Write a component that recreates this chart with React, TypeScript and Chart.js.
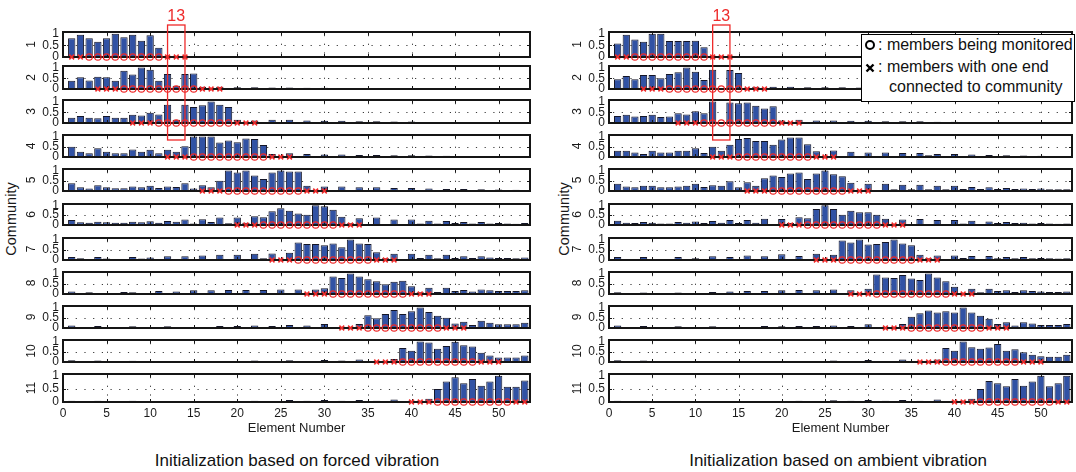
import React, { useEffect, useRef } from "react";
import { Chart, registerables } from "chart.js";

Chart.register(...registerables);

const FONT = '"Liberation Sans", Arial, Helvetica, sans-serif';
Chart.defaults.font.family = FONT;
Chart.defaults.color = "#1a1a1a";

// ---------------- data ----------------
const X_TICKS = [0, 5, 10, 15, 20, 25, 30, 35, 40, 45, 50];
const Y_TICKS = [0, 0.5, 1];
const Y_TICK_LABELS = ["0", "0.5", "1"];
const ROW_LABELS = ["1", "2", "3", "4", "5", "6", "7", "8", "9", "10", "11"];
const X_TITLE = "Element Number";
const Y_TITLE = "Community";
const HIGHLIGHT_FROM = 12;
const HIGHLIGHT_TO = 14;
const HIGHLIGHT_LABEL = "13";
const TITLE_LEFT = "Initialization based on forced vibration";
const TITLE_RIGHT = "Initialization based on ambient vibration";
const LEGEND_CIRCLE = ": members being monitored";
const LEGEND_CROSS_1 = ": members with one end";
const LEGEND_CROSS_2 = "connected to community";

const CIRCLES = [
  [3, 4, 5, 6, 7, 8, 9, 10, 11],
  [7, 8, 9, 10, 11, 12, 13, 14, 15],
  [11, 12, 13, 14, 15, 16, 17, 18, 19],
  [15, 16, 17, 18, 19, 20, 21, 22, 23],
  [19, 20, 21, 22, 23, 24, 25, 26, 27],
  [23, 24, 25, 26, 27, 28, 29, 30, 31],
  [27, 28, 29, 30, 31, 32, 33, 34, 35],
  [31, 32, 33, 34, 35, 36, 37, 38, 39],
  [35, 36, 37, 38, 39, 40, 41, 42, 43],
  [39, 40, 41, 42, 43, 44, 45, 46, 47],
  [43, 44, 45, 46, 47, 48, 49, 50, 51],
];
const CROSSES = [
  [1, 2, 12, 13, 14],
  [4, 5, 6, 16, 17, 18],
  [8, 9, 10, 20, 21, 22],
  [12, 13, 14, 24, 25, 26],
  [16, 17, 18, 28, 29, 30],
  [20, 21, 22, 32, 33, 34],
  [24, 25, 26, 36, 37, 38],
  [28, 29, 30, 40, 41, 42],
  [32, 33, 34, 44, 45, 46],
  [36, 37, 38, 48, 49, 50],
  [40, 41, 42, 52, 53],
];

// forced vibration (left)
const L1 = [0.8, 0.95, 0.8, 0.65, 0.8, 1.0, 0.85, 0.95, 0.7, 0.93,
  0.4, 0.02, 0.02, 0.03, 0.02, 0.03, 0.02, 0.03, 0.02, 0.03,
  0.02, 0.03, 0.02, 0.03, 0.02, 0.03, 0.02, 0.03, 0.02, 0.03,
  0.02, 0.03, 0.02, 0.03, 0.02, 0.03, 0.02, 0.03, 0.02, 0.03,
  0.02, 0.03, 0.02, 0.03, 0.02, 0.03, 0.02, 0.03, 0.02, 0.02,
  0.02, 0.02, 0.02];
const L2 = [0.38, 0.55, 0.4, 0.57, 0.55, 0.38, 0.85, 0.68, 1.0, 0.9,
  0.38, 0.7, 0.15, 0.7, 0.72, 0.1, 0.02, 0.1, 0.02, 0.08,
  0.02, 0.08, 0.02, 0.07, 0.02, 0.07, 0.02, 0.06, 0.02, 0.06,
  0.02, 0.05, 0.02, 0.05, 0.02, 0.05, 0.02, 0.04, 0.02, 0.04,
  0.02, 0.04, 0.02, 0.03, 0.02, 0.03, 0.02, 0.03, 0.02, 0.03,
  0.02, 0.02, 0.02];
const L3 = [0.25, 0.32, 0.25, 0.22, 0.32, 0.25, 0.25, 0.38, 0.35, 0.48,
  0.4, 0.85, 0.15, 0.85, 0.75, 0.82, 1.0, 0.85, 0.75, 0.15,
  0.02, 0.12, 0.03, 0.15, 0.02, 0.15, 0.02, 0.12, 0.02, 0.1,
  0.02, 0.1, 0.02, 0.08, 0.02, 0.08, 0.02, 0.07, 0.02, 0.07,
  0.02, 0.05, 0.02, 0.05, 0.02, 0.04, 0.02, 0.04, 0.02, 0.03,
  0.02, 0.03, 0.02];
const L4 = [0.5, 0.25, 0.18, 0.42, 0.25, 0.18, 0.18, 0.37, 0.25, 0.35,
  0.18, 0.35, 0.25, 0.52, 1.0, 1.0, 1.0, 0.7, 0.8, 0.72,
  0.9, 0.88, 0.58, 0.15, 0.03, 0.18, 0.02, 0.15, 0.02, 0.12,
  0.03, 0.12, 0.03, 0.1, 0.03, 0.1, 0.03, 0.08, 0.03, 0.08,
  0.03, 0.07, 0.03, 0.06, 0.03, 0.05, 0.03, 0.04, 0.03, 0.04,
  0.03, 0.03, 0.03];
const L5 = [0.38, 0.18, 0.12, 0.28, 0.18, 0.13, 0.13, 0.22, 0.18, 0.26,
  0.15, 0.22, 0.2, 0.38, 0.12, 0.28, 0.18, 0.5, 1.0, 0.9,
  1.0, 0.75, 0.58, 0.9, 1.0, 0.95, 0.95, 0.25, 0.05, 0.22,
  0.03, 0.22, 0.05, 0.18, 0.05, 0.18, 0.05, 0.15, 0.05, 0.15,
  0.05, 0.12, 0.05, 0.1, 0.05, 0.1, 0.05, 0.08, 0.05, 0.07,
  0.05, 0.06, 0.05];
const L6 = [0.25, 0.14, 0.12, 0.17, 0.14, 0.11, 0.11, 0.17, 0.14, 0.19,
  0.11, 0.21, 0.16, 0.28, 0.08, 0.29, 0.15, 0.38, 0.09, 0.38,
  0.11, 0.45, 0.39, 0.7, 0.85, 0.72, 0.58, 0.52, 1.0, 0.95,
  0.78, 0.42, 0.09, 0.35, 0.05, 0.38, 0.05, 0.28, 0.05, 0.28,
  0.08, 0.22, 0.08, 0.2, 0.1, 0.15, 0.08, 0.15, 0.08, 0.1,
  0.08, 0.07, 0.1];
const L7 = [0.15, 0.08, 0.05, 0.15, 0.07, 0.03, 0.05, 0.15, 0.07, 0.12,
  0.05, 0.18, 0.05, 0.18, 0.05, 0.22, 0.05, 0.25, 0.05, 0.25,
  0.05, 0.3, 0.08, 0.32, 0.05, 0.35, 0.85, 0.78, 0.78, 0.72,
  0.8, 0.62, 1.0, 0.8, 0.78, 0.38, 0.08, 0.3, 0.05, 0.3,
  0.1, 0.25, 0.08, 0.25, 0.1, 0.18, 0.1, 0.18, 0.12, 0.1,
  0.1, 0.08, 0.12];
const L8 = [0.12, 0.05, 0.08, 0.05, 0.05, 0.03, 0.1, 0.08, 0.05, 0.05,
  0.15, 0.05, 0.12, 0.05, 0.18, 0.05, 0.18, 0.05, 0.2, 0.05,
  0.2, 0.05, 0.2, 0.05, 0.22, 0.05, 0.22, 0.05, 0.22, 0.28,
  0.85, 0.78, 1.0, 0.85, 0.72, 0.62, 0.48, 0.6, 0.65, 0.38,
  0.08, 0.3, 0.1, 0.3, 0.15, 0.2, 0.12, 0.22, 0.18, 0.15,
  0.15, 0.15, 0.18];
const L9 = [0.12, 0.03, 0.05, 0.1, 0.03, 0.03, 0.03, 0.08, 0.05, 0.05,
  0.05, 0.08, 0.05, 0.05, 0.05, 0.05, 0.05, 0.1, 0.05, 0.1,
  0.05, 0.12, 0.05, 0.1, 0.03, 0.15, 0.03, 0.12, 0.05, 0.2,
  0.05, 0.05, 0.05, 0.2, 0.62, 0.48, 0.68, 0.88, 0.68, 0.82,
  1.0, 0.78, 0.6, 0.5, 0.22, 0.3, 0.15, 0.35, 0.25, 0.18,
  0.18, 0.18, 0.25];
const L10 = [0.08, 0.03, 0.03, 0.07, 0.03, 0.03, 0.03, 0.06, 0.03, 0.03,
  0.03, 0.05, 0.03, 0.03, 0.03, 0.03, 0.03, 0.05, 0.03, 0.03,
  0.03, 0.07, 0.03, 0.03, 0.03, 0.08, 0.03, 0.05, 0.03, 0.1,
  0.03, 0.07, 0.03, 0.12, 0.03, 0.05, 0.05, 0.15, 0.68, 0.55,
  1.0, 0.95, 0.65, 0.78, 0.98, 0.82, 0.75, 0.45, 0.32, 0.22,
  0.22, 0.22, 0.32];
const L11 = [0.05, 0.03, 0.03, 0.05, 0.03, 0.03, 0.03, 0.05, 0.03, 0.03,
  0.03, 0.04, 0.03, 0.03, 0.03, 0.03, 0.03, 0.04, 0.03, 0.03,
  0.03, 0.05, 0.03, 0.03, 0.03, 0.08, 0.03, 0.05, 0.03, 0.08,
  0.03, 0.05, 0.03, 0.08, 0.03, 0.05, 0.03, 0.1, 0.03, 0.05,
  0.05, 0.12, 0.5, 0.78, 0.95, 0.72, 0.88, 0.62, 0.78, 1.0,
  0.58, 0.58, 0.82];

// ambient vibration (right)
const R1 = [0.58, 0.95, 0.75, 0.65, 1.0, 1.0, 0.68, 0.68, 0.68, 0.7,
  0.42, 0.02, 0.02, 0.03, 0.02, 0.03, 0.02, 0.03, 0.02, 0.03,
  0.02, 0.03, 0.02, 0.03, 0.02, 0.03, 0.02, 0.03, 0.02, 0.03,
  0.02, 0.03, 0.02, 0.03, 0.02, 0.03, 0.02, 0.03, 0.02, 0.03,
  0.02, 0.03, 0.02, 0.03, 0.02, 0.03, 0.02, 0.03, 0.02, 0.02,
  0.02, 0.02, 0.02];
const R2 = [0.45, 0.6, 0.45, 0.65, 0.65, 0.5, 0.7, 0.78, 1.0, 0.8,
  0.42, 0.9, 0.05, 0.88, 0.75, 0.05, 0.1, 0.03, 0.1, 0.03,
  0.1, 0.05, 0.08, 0.03, 0.08, 0.03, 0.08, 0.03, 0.07, 0.03,
  0.07, 0.03, 0.06, 0.03, 0.06, 0.03, 0.05, 0.03, 0.05, 0.03,
  0.05, 0.03, 0.04, 0.03, 0.04, 0.03, 0.04, 0.03, 0.03, 0.03,
  0.03, 0.03, 0.03];
const R3 = [0.32, 0.38, 0.3, 0.32, 0.38, 0.28, 0.3, 0.45, 0.4, 0.55,
  0.45, 1.0, 0.05, 0.95, 0.92, 0.95, 0.8, 0.68, 0.78, 0.12,
  0.03, 0.15, 0.03, 0.12, 0.03, 0.12, 0.03, 0.1, 0.03, 0.1,
  0.03, 0.08, 0.03, 0.08, 0.03, 0.08, 0.03, 0.06, 0.03, 0.06,
  0.03, 0.05, 0.03, 0.05, 0.03, 0.04, 0.03, 0.04, 0.03, 0.03,
  0.03, 0.03, 0.03];
const R4 = [0.3, 0.3, 0.22, 0.15, 0.3, 0.22, 0.22, 0.3, 0.3, 0.42,
  0.2, 0.5, 0.3, 0.6, 0.88, 0.92, 0.78, 0.78, 0.6, 0.85,
  0.95, 0.95, 0.62, 0.28, 0.05, 0.32, 0.03, 0.25, 0.05, 0.22,
  0.05, 0.22, 0.05, 0.2, 0.05, 0.2, 0.08, 0.15, 0.05, 0.15,
  0.05, 0.12, 0.05, 0.1, 0.05, 0.08, 0.05, 0.07, 0.05, 0.06,
  0.05, 0.05, 0.05];
const R5 = [0.35, 0.22, 0.18, 0.25, 0.25, 0.18, 0.18, 0.22, 0.25, 0.35,
  0.2, 0.28, 0.25, 0.48, 0.18, 0.42, 0.25, 0.62, 0.75, 0.68,
  0.85, 0.9, 0.58, 0.85, 1.0, 0.82, 0.72, 0.4, 0.05, 0.35,
  0.05, 0.35, 0.08, 0.3, 0.08, 0.3, 0.08, 0.25, 0.08, 0.25,
  0.1, 0.2, 0.1, 0.18, 0.1, 0.15, 0.1, 0.12, 0.1, 0.12,
  0.08, 0.08, 0.08];
const R6 = [0.22, 0.12, 0.1, 0.15, 0.12, 0.08, 0.08, 0.15, 0.12, 0.18,
  0.1, 0.2, 0.12, 0.25, 0.1, 0.25, 0.12, 0.32, 0.05, 0.3,
  0.1, 0.4, 0.35, 0.82, 1.0, 0.82, 0.52, 0.72, 0.65, 0.65,
  0.52, 0.32, 0.05, 0.28, 0.05, 0.3, 0.05, 0.25, 0.05, 0.25,
  0.08, 0.22, 0.05, 0.18, 0.1, 0.15, 0.1, 0.12, 0.08, 0.1,
  0.08, 0.07, 0.08];
const R7 = [0.15, 0.05, 0.03, 0.15, 0.05, 0.03, 0.03, 0.15, 0.05, 0.08,
  0.05, 0.18, 0.05, 0.15, 0.05, 0.22, 0.05, 0.18, 0.05, 0.28,
  0.05, 0.2, 0.05, 0.3, 0.05, 0.25, 0.95, 0.85, 1.0, 0.75,
  0.78, 0.88, 1.0, 0.8, 0.72, 0.25, 0.08, 0.22, 0.05, 0.22,
  0.1, 0.2, 0.05, 0.2, 0.08, 0.15, 0.08, 0.15, 0.08, 0.1,
  0.08, 0.07, 0.08];
const R8 = [0.08, 0.05, 0.03, 0.07, 0.03, 0.03, 0.03, 0.07, 0.05, 0.05,
  0.05, 0.1, 0.05, 0.12, 0.05, 0.15, 0.05, 0.15, 0.05, 0.18,
  0.05, 0.2, 0.05, 0.18, 0.05, 0.22, 0.03, 0.18, 0.05, 0.25,
  0.95, 0.8, 0.78, 0.92, 0.75, 0.68, 1.0, 0.8, 0.62, 0.35,
  0.05, 0.25, 0.08, 0.25, 0.15, 0.18, 0.1, 0.18, 0.15, 0.12,
  0.1, 0.1, 0.12];
const R9 = [0.12, 0.03, 0.03, 0.1, 0.03, 0.03, 0.03, 0.08, 0.05, 0.05,
  0.03, 0.08, 0.03, 0.05, 0.03, 0.05, 0.03, 0.1, 0.03, 0.08,
  0.03, 0.1, 0.03, 0.1, 0.03, 0.12, 0.03, 0.1, 0.03, 0.18,
  0.03, 0.05, 0.05, 0.2, 0.55, 0.72, 0.85, 0.75, 0.82, 0.75,
  1.0, 0.75, 0.6, 0.45, 0.2, 0.28, 0.12, 0.28, 0.22, 0.15,
  0.15, 0.15, 0.2];
const R10 = [0.08, 0.03, 0.03, 0.07, 0.03, 0.03, 0.03, 0.05, 0.03, 0.03,
  0.03, 0.05, 0.03, 0.03, 0.03, 0.05, 0.03, 0.03, 0.03, 0.05,
  0.03, 0.05, 0.03, 0.03, 0.03, 0.07, 0.03, 0.05, 0.03, 0.1,
  0.03, 0.05, 0.03, 0.12, 0.03, 0.05, 0.05, 0.12, 0.68, 0.55,
  1.0, 0.72, 0.65, 0.7, 0.88, 0.55, 0.62, 0.48, 0.35, 0.28,
  0.25, 0.25, 0.35];
const R11 = [0.05, 0.03, 0.03, 0.05, 0.03, 0.03, 0.03, 0.04, 0.03, 0.03,
  0.03, 0.04, 0.03, 0.03, 0.03, 0.03, 0.03, 0.04, 0.03, 0.03,
  0.03, 0.05, 0.03, 0.03, 0.03, 0.07, 0.03, 0.05, 0.03, 0.08,
  0.03, 0.05, 0.03, 0.08, 0.03, 0.05, 0.03, 0.1, 0.03, 0.05,
  0.05, 0.12, 0.5, 0.8, 0.72, 0.6, 0.88, 0.62, 0.78, 1.0,
  0.6, 0.72, 1.0];

const LEFT_ROWS = [L1, L2, L3, L4, L5, L6, L7, L8, L9, L10, L11];
const RIGHT_ROWS = [R1, R2, R3, R4, R5, R6, R7, R8, R9, R10, R11];

// ---------------- layout / style ----------------
const X_MIN = 0;
const X_MAX = 53.6;
const Y_MIN = 0;
const Y_MAX = 1.07;
const ROW_TOP = [32, 66, 100, 135, 169, 204, 238, 272, 306, 340, 374];
const ROW_BOT = [57, 89, 123, 157, 191, 225, 260, 294, 328, 362, 402];
const AXW = 50;
const PADR = 5;
const XAXIS_H = 36;
const FIRST_CANVAS_H = 150;
const BOX_BOTTOM = 140;
const RED = "#ee2a2a";
const BAR_FILL = "#3152a4";
const BAR_EDGE = "#141628";

const PANELS = [
  { plotLeft: 63, plotRight: 530, rows: LEFT_ROWS, title: TITLE_LEFT, titleX: 297, commX: 11 },
  { plotLeft: 609, plotRight: 1072, rows: RIGHT_ROWS, title: TITLE_RIGHT, titleX: 838, commX: 564 },
];

const framePlugin = {
  id: "frame",
  beforeDatasetsDraw(chart: any) {
    const { ctx, chartArea: a, scales } = chart;
    const x = scales.x;
    const y = scales.y;
    ctx.save();
    ctx.beginPath();
    ctx.rect(a.left, a.top, a.right - a.left, a.bottom - a.top);
    ctx.clip();
    ctx.strokeStyle = "#3a3a3a";
    ctx.lineWidth = 1;
    ctx.setLineDash([1.2, 7.5]);
    const yh = Math.round(y.getPixelForValue(0.5)) + 0.5;
    ctx.beginPath();
    ctx.moveTo(a.left + 4, yh);
    ctx.lineTo(a.right, yh);
    ctx.stroke();
    for (const v of X_TICKS) {
      if (v === X_MIN) continue;
      const px = Math.round(x.getPixelForValue(v)) + 0.5;
      ctx.beginPath();
      ctx.moveTo(px, a.top + 3);
      ctx.lineTo(px, a.bottom);
      ctx.stroke();
    }
    ctx.restore();
  },
  afterDatasetDraw(chart: any, args: any) {
    if (args.meta.type !== "bar") return;
    const { ctx, chartArea: a, scales } = chart;
    const x = scales.x;
    const y = scales.y;
    ctx.save();
    ctx.setLineDash([]);
    ctx.strokeStyle = "#151515";
    ctx.lineWidth = 1;
    for (const v of X_TICKS) {
      if (v === X_MIN) continue;
      const px = Math.round(x.getPixelForValue(v)) + 0.5;
      ctx.beginPath();
      ctx.moveTo(px, a.top);
      ctx.lineTo(px, a.top + 3);
      ctx.moveTo(px, a.bottom);
      ctx.lineTo(px, a.bottom - 3);
      ctx.stroke();
    }
    const yh = Math.round(y.getPixelForValue(0.5)) + 0.5;
    ctx.beginPath();
    ctx.moveTo(a.left, yh);
    ctx.lineTo(a.left + 3, yh);
    ctx.moveTo(a.right, yh);
    ctx.lineTo(a.right - 3, yh);
    ctx.stroke();
    ctx.lineWidth = 2;
    ctx.strokeRect(a.left, a.top, a.right - a.left, a.bottom - a.top);
    ctx.restore();
  },
  afterDraw(chart: any, _args: any, opts: any) {
    if (!opts || !opts.highlight) return;
    const { ctx, chartArea: a, scales } = chart;
    const x = scales.x;
    const x0 = x.getPixelForValue(HIGHLIGHT_FROM);
    const x1 = x.getPixelForValue(HIGHLIGHT_TO);
    const top = a.top - 7;
    const bottom = opts.boxBottom;
    ctx.save();
    ctx.strokeStyle = RED;
    ctx.lineWidth = 1.3;
    ctx.strokeRect(x0, top, x1 - x0, bottom - top);
    ctx.fillStyle = RED;
    ctx.font = `16px ${FONT}`;
    ctx.textAlign = "center";
    ctx.textBaseline = "alphabetic";
    ctx.fillText(HIGHLIGHT_LABEL, (x0 + x1) / 2, top - 4);
    ctx.restore();
  },
};

type RowProps = {
  values: number[];
  row: number;
  plotLeft: number;
  plotRight: number;
};

function RowChart({ values, row, plotLeft, plotRight }: RowProps) {
  const ref = useRef<HTMLCanvasElement | null>(null);
  const isFirst = row === 0;
  const isLast = row === ROW_LABELS.length - 1;
  const top = ROW_TOP[row];
  const bot = ROW_BOT[row];
  const padTop = isFirst ? top : 8;
  const canvasTop = top - padTop;
  const height = isFirst ? FIRST_CANVAS_H : isLast ? bot - canvasTop + XAXIS_H : bot - canvasTop + 8;
  const padBottom = isFirst ? FIRST_CANVAS_H - bot : isLast ? 0 : 8;
  const width = AXW + (plotRight - plotLeft) + PADR;

  useEffect(() => {
    if (!ref.current) return;
    const chart = new Chart(ref.current, {
      type: "bar",
      data: {
        datasets: [
          {
            type: "scatter",
            data: CIRCLES[row].map((e) => ({ x: e, y: 0 })),
            pointStyle: "circle",
            pointRadius: 3.2,
            pointBorderWidth: 1.2,
            pointBorderColor: RED,
            pointBackgroundColor: "rgba(0,0,0,0)",
            clip: false,
            order: 0,
          } as any,
          {
            type: "scatter",
            data: CROSSES[row].map((e) => ({ x: e, y: 0 })),
            pointStyle: "crossRot",
            pointRadius: 3.4,
            pointBorderWidth: 1.5,
            pointBorderColor: RED,
            pointBackgroundColor: RED,
            clip: false,
            order: 1,
          } as any,
          {
            type: "bar",
            data: values.map((v, i) => ({ x: i + 1, y: v })),
            backgroundColor: BAR_FILL,
            borderColor: BAR_EDGE,
            borderWidth: 1,
            barPercentage: 0.84,
            categoryPercentage: 1,
            order: 2,
          } as any,
        ],
      },
      options: {
        responsive: false,
        animation: false,
        devicePixelRatio: 1,
        events: [],
        layout: {
          autoPadding: false,
          padding: { top: padTop, bottom: padBottom, left: 0, right: PADR },
        },
        plugins: {
          legend: { display: false },
          tooltip: { enabled: false },
          frame: { highlight: isFirst, boxBottom: BOX_BOTTOM - canvasTop },
        } as any,
        scales: {
          x: {
            type: "linear",
            min: X_MIN,
            max: X_MAX,
            offset: false,
            display: isLast,
            afterBuildTicks: (s: any) => {
              s.ticks = X_TICKS.map((v) => ({ value: v }));
            },
            afterFit: (s: any) => {
              if (isLast) s.height = XAXIS_H;
              s.paddingLeft = 0;
              s.paddingRight = 0;
            },
            grid: { display: false, drawTicks: false },
            border: { display: false },
            ticks: {
              font: { size: 12 },
              color: "#1a1a1a",
              padding: 4,
              autoSkip: false,
              maxRotation: 0,
              callback: (v: any) => String(v),
            },
            title: {
              display: true,
              text: X_TITLE,
              font: { size: 13 },
              color: "#1a1a1a",
              padding: { top: 0, bottom: 2 },
            },
          },
          y: {
            type: "linear",
            min: Y_MIN,
            max: Y_MAX,
            afterBuildTicks: (s: any) => {
              s.ticks = Y_TICKS.map((v) => ({ value: v }));
            },
            afterFit: (s: any) => {
              s.width = AXW;
              s.paddingTop = 0;
              s.paddingBottom = 0;
            },
            grid: { display: false, drawTicks: false },
            border: { display: false },
            ticks: {
              font: { size: 12 },
              color: "#1a1a1a",
              padding: 4,
              autoSkip: false,
              callback: (_v: any, i: number) => Y_TICK_LABELS[i],
            },
            title: {
              display: true,
              text: ROW_LABELS[row],
              font: { size: 12 },
              color: "#1a1a1a",
              padding: { top: 11, bottom: 0 },
            },
          },
        },
      } as any,
      plugins: [framePlugin as any],
    });
    return () => chart.destroy();
  }, []);

  return (
    <canvas
      ref={ref}
      width={width}
      height={height}
      style={{
        position: "absolute",
        left: plotLeft - AXW,
        top: canvasTop,
        width,
        height,
        zIndex: isFirst ? 2 : 1,
      }}
    />
  );
}

function Legend() {
  return (
    <div
      style={{
        position: "absolute",
        left: 861,
        top: 34,
        width: 214,
        height: 68,
        border: "1.5px solid #000",
        background: "#fff",
        boxSizing: "border-box",
        zIndex: 3,
        fontFamily: FONT,
        fontSize: 16,
        color: "#111",
        lineHeight: "18px",
      }}
    >
      <div
        style={{
          position: "absolute",
          left: 3,
          top: 5,
          width: 10,
          height: 10,
          border: "2.4px solid #000",
          borderRadius: "50%",
          boxSizing: "border-box",
        }}
      />
      <div style={{ position: "absolute", left: 16, top: 1, whiteSpace: "nowrap" }}>{LEGEND_CIRCLE}</div>
      <svg style={{ position: "absolute", left: 3, top: 28 }} width={10} height={10}>
        <path d="M1.5 1.5 L8.5 8.5 M8.5 1.5 L1.5 8.5" stroke="#000" strokeWidth={2.4} />
      </svg>
      <div style={{ position: "absolute", left: 16, top: 23, whiteSpace: "nowrap" }}>{LEGEND_CROSS_1}</div>
      <div style={{ position: "absolute", left: 27, top: 43, whiteSpace: "nowrap" }}>{LEGEND_CROSS_2}</div>
    </div>
  );
}

export default function App() {
  return (
    <div
      style={{
        position: "absolute",
        left: 0,
        top: 0,
        width: 1076,
        height: 472,
        overflow: "hidden",
        background: "#fff",
        fontFamily: FONT,
      }}
    >
      {PANELS.map((p, pi) => (
        <React.Fragment key={pi}>
          {p.rows.map((vals, r) => (
            <RowChart key={r} values={vals} row={r} plotLeft={p.plotLeft} plotRight={p.plotRight} />
          ))}
          <div
            style={{
              position: "absolute",
              left: p.commX,
              top: 219,
              transform: "translate(-50%, -50%) rotate(-90deg)",
              whiteSpace: "nowrap",
              fontSize: 14.5,
              lineHeight: 1,
              color: "#1a1a1a",
            }}
          >
            {Y_TITLE}
          </div>
          <div
            style={{
              position: "absolute",
              left: p.titleX,
              top: 460,
              transform: "translate(-50%, -50%)",
              whiteSpace: "nowrap",
              fontSize: 17,
              lineHeight: 1,
              color: "#111",
            }}
          >
            {p.title}
          </div>
        </React.Fragment>
      ))}
      <Legend />
    </div>
  );
}
